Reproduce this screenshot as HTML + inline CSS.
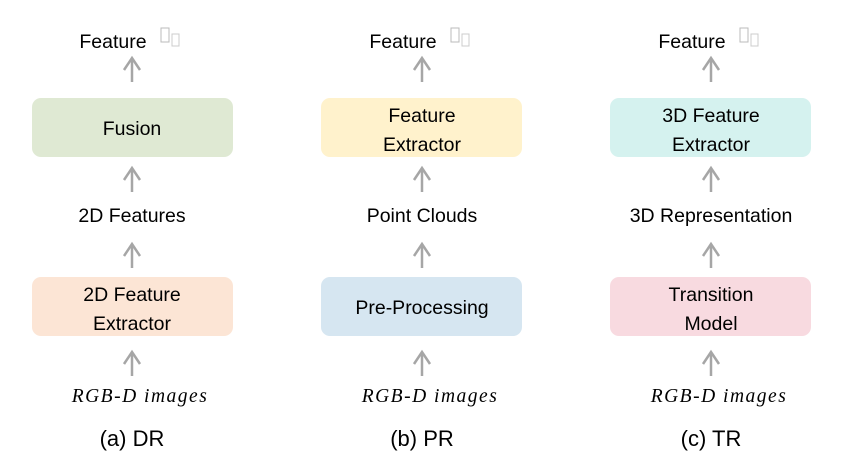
<!DOCTYPE html>
<html><head><style>body{margin:0;background:#fff}</style></head><body>
<svg width="851" height="465" xmlns="http://www.w3.org/2000/svg" font-family="Liberation Sans, sans-serif">
<defs><g id="ar"><line x1="0" y1="0" x2="0" y2="-23" stroke="#a6a6a6" stroke-width="2.5"/><path d="M-8,-12 L0,-24 L8,-12" fill="none" stroke="#a6a6a6" stroke-width="2.5"/></g>
<g id="gl"><rect x="0" y="-10" width="8" height="14" fill="none" stroke="#bbb" stroke-width="1"/><rect x="11" y="-4" width="7" height="12" fill="none" stroke="#ccc" stroke-width="1"/></g></defs>
<g font-size="19.5" fill="#000" text-anchor="middle">
<text x="113" y="48">Feature</text><use href="#gl" x="161" y="38"/>
<use href="#ar" x="132" y="82"/>
<rect x="32" y="98" width="201" height="59" rx="9" fill="#dfe9d3"/>
<text x="132" y="135">Fusion</text>
<use href="#ar" x="132" y="192"/>
<text x="132" y="222">2D Features</text>
<use href="#ar" x="132" y="268"/>
<rect x="32" y="277" width="201" height="59" rx="9" fill="#fce5d5"/>
<text x="132" y="301">2D Feature</text><text x="132" y="330">Extractor</text>
<use href="#ar" x="132" y="376"/>
<text x="140" y="402" font-family="Liberation Serif, serif" font-style="italic" letter-spacing="1.5">RGB-D images</text>
<text x="132" y="446" font-size="22">(a) DR</text>
<text x="403" y="48">Feature</text><use href="#gl" x="451" y="38"/>
<use href="#ar" x="422" y="82"/>
<rect x="321" y="98" width="201" height="59" rx="9" fill="#fff2cc"/>
<text x="422" y="122">Feature</text><text x="422" y="151">Extractor</text>
<use href="#ar" x="422" y="192"/>
<text x="422" y="222">Point Clouds</text>
<use href="#ar" x="422" y="268"/>
<rect x="321" y="277" width="201" height="59" rx="9" fill="#d6e6f1"/>
<text x="422" y="314">Pre-Processing</text>
<use href="#ar" x="422" y="376"/>
<text x="430" y="402" font-family="Liberation Serif, serif" font-style="italic" letter-spacing="1.5">RGB-D images</text>
<text x="422" y="446" font-size="22">(b) PR</text>
<text x="692" y="48">Feature</text><use href="#gl" x="740" y="38"/>
<use href="#ar" x="711" y="82"/>
<rect x="610" y="98" width="201" height="59" rx="9" fill="#d5f2ef"/>
<text x="711" y="122">3D Feature</text><text x="711" y="151">Extractor</text>
<use href="#ar" x="711" y="192"/>
<text x="711" y="222">3D Representation</text>
<use href="#ar" x="711" y="268"/>
<rect x="610" y="277" width="201" height="59" rx="9" fill="#f8dae0"/>
<text x="711" y="301">Transition</text><text x="711" y="330">Model</text>
<use href="#ar" x="711" y="376"/>
<text x="719" y="402" font-family="Liberation Serif, serif" font-style="italic" letter-spacing="1.5">RGB-D images</text>
<text x="711" y="446" font-size="22">(c) TR</text>
</g>
</svg>
</body></html>
